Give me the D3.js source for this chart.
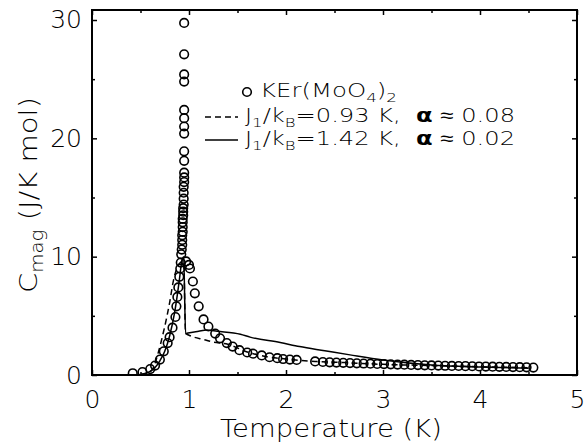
<!DOCTYPE html>
<html>
<head>
<meta charset="utf-8">
<script src="https://cdn.jsdelivr.net/npm/d3@7"></script>
<style>
body { margin: 0; background: #fff; }
svg { display: block; }
text { font-family: "DejaVu Sans", sans-serif; fill: #000; }
.tick line { stroke: #000; stroke-width: 1.5; }
.tick text { font-size: 25px; font-weight: 300; }
</style>
</head>
<body>
<svg class="rootSvg" width="586" height="443"></svg>
<script>
// measured points, KEr(MoO4)2
var dataT = [0.42, 0.52, 0.60, 0.65, 0.70, 0.74, 0.78, 0.80, 0.83, 0.86, 0.87, 0.88, 0.89, 0.90, 0.91, 0.915,
             0.92, 0.925, 0.93, 0.93, 0.93, 0.935, 0.935, 0.935, 0.935, 0.94, 0.94, 0.94, 0.945, 0.945,
             0.945, 0.945, 0.95, 0.95, 0.95, 0.95, 0.95, 0.95, 0.95, 0.95, 0.95, 0.95, 0.95, 0.95, 0.95,
             0.97, 1.00, 1.01, 1.04, 1.06, 1.10, 1.15, 1.20, 1.27, 1.32, 1.39, 1.45, 1.52, 1.60, 1.66, 1.75,
             1.83, 1.91, 1.97, 2.04, 2.11,
             2.30, 2.38, 2.45, 2.52, 2.59, 2.66, 2.73, 2.80, 2.87, 2.94, 3.01, 3.08, 3.15, 3.22, 3.29, 3.36,
             3.43, 3.50, 3.57, 3.64, 3.71, 3.78, 3.85, 3.92, 3.99, 4.06, 4.13, 4.20, 4.27, 4.34, 4.41, 4.48, 4.55];
var dataC = [0.15, 0.25, 0.5, 0.8, 1.3, 2.0, 2.7, 3.2, 4.0, 4.9, 5.8, 6.6, 7.4, 8.3, 9.0, 9.5,
             10.2, 10.6, 11.0, 11.4, 11.8, 12.1, 12.5, 12.9, 13.2, 13.5, 13.8, 14.1, 14.4, 14.9,
             15.4, 15.9, 16.3, 16.7, 17.1, 18.1, 18.9,
             20.4, 21.0, 21.7, 22.4, 24.8, 25.4, 27.1, 29.75,
             9.6, 9.3, 9.0, 7.9, 6.9, 5.8, 4.7, 4.1, 3.5, 3.1, 2.7, 2.4, 2.1, 1.9, 1.8, 1.65,
             1.5, 1.42, 1.35, 1.3, 1.27,
             1.15, 1.1, 1.07, 1.05, 1.03, 1.01, 0.99, 0.97, 0.95, 0.93, 0.92, 0.90, 0.88, 0.87, 0.85, 0.84,
             0.82, 0.81, 0.80, 0.78, 0.77, 0.76, 0.75, 0.74, 0.72, 0.71, 0.70, 0.69, 0.68, 0.67, 0.66, 0.65, 0.63];

// fit J1/kB = 0.93 K (dashed)
var dashT = [0.50, 0.56, 0.62, 0.68, 0.73, 0.75, 0.80, 0.84, 0.87, 0.90, 0.925, 0.945, 0.965, 0.99, 1.05, 1.15, 1.24,
             1.40, 1.60, 1.80, 2.00, 2.30, 2.60, 3.00, 3.50, 4.00, 4.50];
var dashC = [0.05, 0.15, 0.45, 1.8, 3.4, 4.1, 6.1, 8.0, 8.9, 9.4, 9.6, 9.6, 3.5, 3.4, 3.2, 3.0, 2.8,
             2.6, 1.95, 1.55, 1.35, 1.15, 1.05, 0.9, 0.8, 0.7, 0.62];

// fit J1/kB = 1.42 K (solid)
var solidT = [0.50, 0.60, 0.70, 0.75, 0.80, 0.85, 0.88, 0.90, 0.92, 0.945, 0.965, 0.99, 1.10, 1.18, 1.29, 1.53,
              1.63, 1.94, 2.14, 2.40, 2.66, 3.00, 3.50, 4.00, 4.50];
var solidC = [0.05, 0.3, 1.2, 2.0, 3.3, 5.2, 6.8, 8.0, 9.3, 10.0, 3.5, 3.55, 3.7, 3.8, 3.7, 3.45,
              3.2, 2.75, 2.4, 2.05, 1.7, 1.27, 0.85, 0.68, 0.58];

var xTicks = [0, 1, 2, 3, 4, 5];
var xMinor = [0.5, 1.5, 2.5, 3.5, 4.5];
var yTicks = [0, 10, 20, 30];
var yMinor = [5, 15, 25];

var svg = d3.select('.rootSvg');
var pLeft = 92, pRight = 577, pTop = 10, pBottom = 375;

var x = d3.scaleLinear().domain([0, 5]).range([pLeft, pRight]);
var y = d3.scaleLinear().domain([0, 30.845]).range([pBottom, pTop]);

svg.append('rect').attr('width', 586).attr('height', 443).attr('fill', '#fff');

svg.append('clipPath').attr('id', 'plotClip')
   .append('rect').attr('x', pLeft).attr('y', pTop)
   .attr('width', pRight - pLeft).attr('height', pBottom - pTop);

// axes, ticks inward on all four sides
function noDomain(g) { g.select('.domain').remove(); }

svg.append('g').attr('transform', `translate(0,${pBottom})`)
   .call(d3.axisBottom(x).tickValues(xTicks).tickFormat(d3.format('d')).tickSize(-5).tickPadding(15))
   .call(noDomain);
svg.append('g').attr('transform', `translate(0,${pBottom})`)
   .call(d3.axisBottom(x).tickValues(xMinor).tickFormat('').tickSize(-3))
   .call(noDomain);
svg.append('g').attr('transform', `translate(0,${pTop})`)
   .call(d3.axisTop(x).tickValues(xTicks).tickFormat('').tickSize(-5))
   .call(noDomain);
svg.append('g').attr('transform', `translate(0,${pTop})`)
   .call(d3.axisTop(x).tickValues(xMinor).tickFormat('').tickSize(-3))
   .call(noDomain);

svg.append('g').attr('transform', `translate(${pLeft},0)`)
   .call(d3.axisLeft(y).tickValues(yTicks).tickFormat(d3.format('d')).tickSize(-5).tickPadding(10))
   .call(noDomain);
svg.append('g').attr('transform', `translate(${pLeft},0)`)
   .call(d3.axisLeft(y).tickValues(yMinor).tickFormat('').tickSize(-3))
   .call(noDomain);
svg.append('g').attr('transform', `translate(${pRight},0)`)
   .call(d3.axisRight(y).tickValues(yTicks).tickFormat('').tickSize(-5))
   .call(noDomain);
svg.append('g').attr('transform', `translate(${pRight},0)`)
   .call(d3.axisRight(y).tickValues(yMinor).tickFormat('').tickSize(-3))
   .call(noDomain);

svg.append('rect')
   .attr('x', pLeft).attr('y', pTop)
   .attr('width', pRight - pLeft).attr('height', pBottom - pTop)
   .attr('fill', 'none').attr('stroke', '#000').attr('stroke-width', 2);

// fit curves
var line = d3.line()
    .x(function (d) { return x(d[0]); })
    .y(function (d) { return y(d[1]); })
    .curve(d3.curveMonotoneX);

var plot = svg.append('g').attr('clip-path', 'url(#plotClip)');

plot.append('path')
    .attr('d', line(d3.zip(dashT, dashC)))
    .attr('fill', 'none').attr('stroke', '#000').attr('stroke-width', 1.5)
    .attr('stroke-dasharray', '6,4');

plot.append('path')
    .attr('d', line(d3.zip(solidT, solidC)))
    .attr('fill', 'none').attr('stroke', '#000').attr('stroke-width', 1.5);

// data circles
plot.selectAll('.pt')
    .data(d3.zip(dataT, dataC))
    .enter()
    .append('circle')
        .attr('class', 'pt')
        .attr('cx', function (d) { return x(d[0]); })
        .attr('cy', function (d) { return y(d[1]); })
        .attr('r', 4.3)
        .attr('fill', 'none')
        .attr('stroke', '#000')
        .attr('stroke-width', 1.6);

// axis titles (the original font is wider than DejaVu, so stretch to the measured width)
svg.append('text')
   .attr('x', 331).attr('y', 437)
   .attr('text-anchor', 'middle')
   .attr('textLength', 222).attr('lengthAdjust', 'spacingAndGlyphs')
   .style('font-size', '25px').style('font-weight', 300)
   .text('Temperature (K)');

var yl = svg.append('text')
   .attr('transform', 'translate(37,195) rotate(-90)')
   .attr('text-anchor', 'middle')
   .attr('textLength', 196).attr('lengthAdjust', 'spacingAndGlyphs')
   .style('font-size', '25px').style('font-weight', 300);
yl.append('tspan').text('C');
yl.append('tspan').attr('dy', 6).style('font-size', '17px').text('mag');
yl.append('tspan').attr('dy', -6).text(' (J/K mol)');

// legend
var lg = svg.append('g').style('font-size', '19px').style('font-weight', 300);

lg.append('circle').attr('cx', 247).attr('cy', 92).attr('r', 4.3)
  .attr('fill', 'none').attr('stroke', '#000').attr('stroke-width', 1.6);
var t1 = lg.append('text').attr('x', 260).attr('y', 97)
  .attr('textLength', 137).attr('lengthAdjust', 'spacingAndGlyphs');
t1.append('tspan').text('KEr(MoO');
t1.append('tspan').attr('dy', 5).style('font-size', '13px').text('4');
t1.append('tspan').attr('dy', -5).text(')');
t1.append('tspan').attr('dy', 5).style('font-size', '13px').text('2');

var legendRows = [
    { dash: '6,4', y: 117, j: '=0.93 K,\u00a0\u00a0', a: '0.08' },
    { dash: null, y: 140, j: '=1.42 K,\u00a0\u00a0', a: '0.02' }
];

legendRows.forEach(function (r) {
    lg.append('line')
      .attr('x1', 205).attr('x2', 238).attr('y1', r.y).attr('y2', r.y)
      .attr('stroke', '#000').attr('stroke-width', 1.5)
      .attr('stroke-dasharray', r.dash);
    var t = lg.append('text').attr('x', 245).attr('y', r.y + 5)
      .attr('textLength', 270).attr('lengthAdjust', 'spacingAndGlyphs');
    t.append('tspan').text('J');
    t.append('tspan').attr('dy', 5).style('font-size', '13px').text('1');
    t.append('tspan').attr('dy', -5).text('/k');
    t.append('tspan').attr('dy', 5).style('font-size', '13px').text('B');
    t.append('tspan').attr('dy', -5).text(r.j);
    t.append('tspan').style('font-weight', 'bold').text('α');
    t.append('tspan').text(' ≈ ' + r.a);
});
</script>
</body>
</html>
